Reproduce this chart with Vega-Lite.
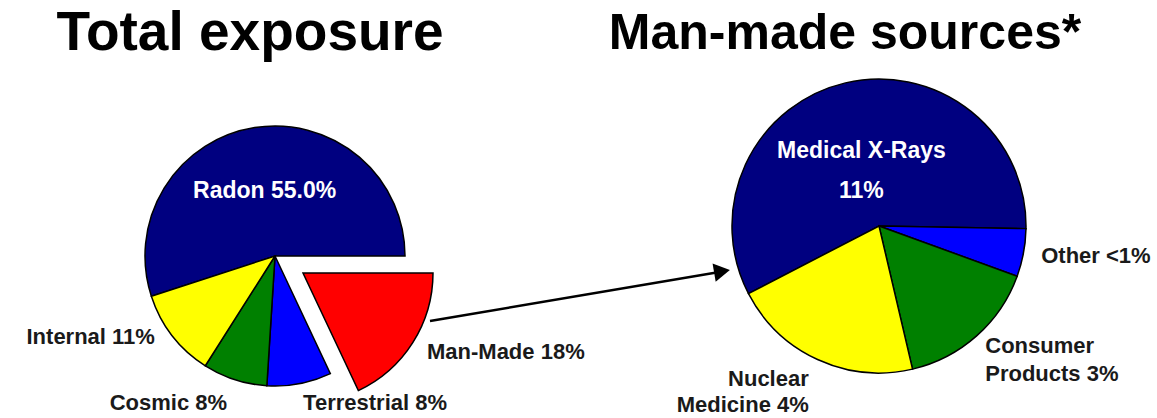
{
  "$schema": "https://vega.github.io/schema/vega-lite/v6.json",
  "width": 1157,
  "height": 418,
  "autosize": {"type": "fit", "contains": "padding"},
  "padding": 0,
  "background": "white",
  "config": {"view": {"stroke": null}, "font": "Liberation Sans"},
  "datasets": {
    "total": [
      {"name": "Radon", "value": 55, "label": "Radon  55.0%"},
      {"name": "Man-Made", "value": 18, "label": "Man-Made 18%"},
      {"name": "Terrestrial", "value": 8, "label": "Terrestrial 8%"},
      {"name": "Cosmic", "value": 8, "label": "Cosmic 8%"},
      {"name": "Internal", "value": 11, "label": "Internal 11%"}
    ],
    "manmade": [
      {"name": "Medical X-Rays", "value": 11, "label": "Medical X-Rays\n11%"},
      {"name": "Other", "value": 1, "label": "Other <1%"},
      {"name": "Consumer Products", "value": 3, "label": "Consumer\nProducts 3%"},
      {"name": "Nuclear Medicine", "value": 4, "label": "Nuclear\nMedicine 4%"}
    ]
  },
  "layer": [
    {
      "data": {"name": "total"},
      "transform": [{"window": [{"op": "row_number", "as": "i"}]}],
      "encoding": {
        "theta": {"field": "value", "type": "quantitative", "stack": true, "scale": {"range": [4.3982, 10.6814]}},
        "order": {"field": "i", "type": "quantitative"}
      },
      "layer": [
        {
          "mark": {"type": "arc", "x": 275, "y": 256, "outerRadius": 130, "stroke": "black", "strokeWidth": 1.5},
          "encoding": {
            "color": {"field": "name", "type": "nominal", "legend": null,
              "scale": {"domain": ["Radon", "Man-Made", "Terrestrial", "Cosmic", "Internal", "Medical X-Rays", "Other", "Consumer Products", "Nuclear Medicine"],
                        "range": ["#000080", "#FF0000", "#0000FF", "#008000", "#FFFF00", "#000080", "#0000FF", "#008000", "#FFFF00"]}},
            "opacity": {"condition": {"test": "datum.name === 'Man-Made'", "value": 0}, "value": 1}
          }
        },
        {
          "mark": {"type": "arc", "x": 303, "y": 273, "outerRadius": 130, "stroke": "black", "strokeWidth": 1.5},
          "encoding": {
            "color": {"field": "name", "type": "nominal", "legend": null},
            "opacity": {"condition": {"test": "datum.name === 'Man-Made'", "value": 1}, "value": 0}
          }
        },
        {
          "mark": {"type": "text", "x": 275, "y": 256, "fontWeight": "bold", "lineBreak": "\n",
            "radius": {"expr": "datum.name === 'Radon' ? 66 : datum.name === 'Man-Made' ? 180 : datum.name === 'Terrestrial' ? 150 : datum.name === 'Cosmic' ? 155 : 152"},
            "baseline": {"expr": "datum.name === 'Internal' ? 'bottom' : 'middle'"},
            "align": {"expr": "datum.name === 'Radon' ? 'center' : (datum.name === 'Man-Made' || datum.name === 'Terrestrial') ? 'left' : 'right'"}},
          "encoding": {
            "detail": {"field": "name", "type": "nominal"},
            "text": {"field": "label", "type": "nominal"},
            "color": {"condition": {"test": "datum.name === 'Radon'", "value": "white"}, "value": "#1a1a1a"},
            "size": {"condition": {"test": "datum.name === 'Radon'", "value": 23}, "value": 22}
          }
        }
      ]
    },
    {
      "data": {"name": "manmade"},
      "transform": [{"window": [{"op": "row_number", "as": "i"}]}],
      "encoding": {
        "theta": {"field": "value", "type": "quantitative", "stack": true, "scale": {"range": [4.2342, 10.5174]}},
        "order": {"field": "i", "type": "quantitative"}
      },
      "layer": [
        {
          "mark": {"type": "arc", "x": 879, "y": 226, "outerRadius": 147, "stroke": "black", "strokeWidth": 1.5},
          "encoding": {
            "color": {"field": "name", "type": "nominal", "legend": null}
          }
        },
        {
          "mark": {"type": "text", "x": 879, "y": 226, "fontWeight": "bold", "baseline": "middle", "lineBreak": "\n",
            "radius": {"expr": "datum.name === 'Medical X-Rays' ? 77 : datum.name === 'Other' ? 165 : datum.name === 'Consumer Products' ? 160 : 168"},
            "lineHeight": {"expr": "datum.name === 'Medical X-Rays' ? 40 : datum.name === 'Nuclear Medicine' ? 26 : 28"},
            "align": {"expr": "(datum.name === 'Other' || datum.name === 'Consumer Products') ? 'left' : datum.name === 'Nuclear Medicine' ? 'right' : 'center'"}},
          "encoding": {
            "detail": {"field": "name", "type": "nominal"},
            "text": {"field": "label", "type": "nominal"},
            "color": {"condition": {"test": "datum.name === 'Medical X-Rays'", "value": "white"}, "value": "#1a1a1a"},
            "size": {"condition": {"test": "datum.name === 'Medical X-Rays'", "value": 23}, "value": 22}
          }
        }
      ]
    },
    {
      "data": {"values": [{"t": "Total exposure"}]},
      "mark": {"type": "text", "x": 250, "y": 50, "align": "center", "baseline": "alphabetic", "fontSize": 55, "fontWeight": "bold", "color": "black"},
      "encoding": {"text": {"field": "t", "type": "nominal"}}
    },
    {
      "data": {"values": [{"t": "Man-made sources*"}]},
      "mark": {"type": "text", "x": 845, "y": 49, "align": "center", "baseline": "alphabetic", "fontSize": 50, "fontWeight": "bold", "color": "black"},
      "encoding": {"text": {"field": "t", "type": "nominal"}}
    },
    {
      "data": {"values": [{}]},
      "mark": {"type": "rule", "stroke": "black", "strokeWidth": 2.5},
      "encoding": {"x": {"value": 430}, "y": {"value": 321}, "x2": {"value": 718}, "y2": {"value": 272.3}}
    },
    {
      "data": {"values": [{}]},
      "mark": {"type": "point", "shape": "triangle-right", "size": 340, "angle": 350.3, "filled": true, "color": "black", "opacity": 1},
      "encoding": {"x": {"value": 722}, "y": {"value": 271.3}}
    }
  ],
  "resolve": {"scale": {"theta": "independent"}}
}
